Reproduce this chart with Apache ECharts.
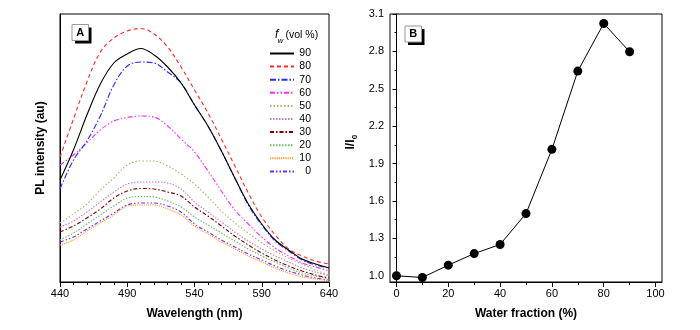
<!DOCTYPE html>
<html><head><meta charset="utf-8">
<script src="https://cdn.jsdelivr.net/npm/echarts@6/dist/echarts.min.js"></script>
<style>html,body{margin:0;padding:0;background:#fff}#c{width:700px;height:330px}</style>
</head><body><div id="c"></div>
<script>
// ---- Panel A data (PL spectra, arbitrary units) ----
const wavelengths = [440,450,460,470,480,490,500,510,520,530,540,550,560,570,580,590,600,610,620,630,640];
const fw90 = [102,132,167,198,219,228,233.5,227,215,199,177,156,131,104,78,58,42,32,23,18,14];
const fw80 = [125,163,200,230,244,251,253.5,248,235,215,192,169,143,116,89,65,47,33,26,21,18];
const fw70 = [93,122,141,166,197,216,220,219,210,199,177,156,131,104,77,57,41,31,22,17,14];
const fw60 = [117,127,139,152,161,164.5,166,165,156,143,130,111,91,72,58,45,34,26,19,15,11];
const fw50 = [59,68,78,92,104,117,121,121,116,108,98,85,71,59,49,39,31,24,18,12,7];
const fw40 = [55,61,70,80,90,98,100,100,99,93,80,70,60,50,41,33,26,20,14,10,6];
const fw30 = [50,56,64,73,84,91,93.5,93,90,86,75,66,56,46,37,29,22,16,11,7,4];
const fw20 = [42,49,58,67,76,84,85.5,85,81,75,65,57,49,41,33,26,20,14,9,6,3];
const fw10 = [37,42,51,59,67,76,77,77,73,67,56,48,40,33,26,20,14,9,5,3,1];
const fw0  = [40,45,53,61,69,77,79,79,76,70,58,50,42,35,28,22,16,11,7,4,2];
const seriesNames = ['90','80','70','60','50','40','30','20','10','0'];
const aXTicks = [440,490,540,590,640];

// ---- Panel B data ----
const waterFraction = [0,10,20,30,40,50,60,70,80,90];
const ratio = [1.0,0.986,1.085,1.178,1.251,1.499,2.014,2.642,3.024,2.797];
const bXTicks = [0,20,40,60,80,100];
const bYTicks = [1.0,1.3,1.6,1.9,2.2,2.5,2.8,3.1];

const spectra = [fw90,fw80,fw70,fw60,fw50,fw40,fw30,fw20,fw10,fw0];
const colors = ['#000000','#ff2a2a','#2a2aff','#ff2aff','#b4b464','#c080c0','#800000','#60c060','#ff9933','#7a2aff'];
const dashes = ['solid',[4,3],[6,2,1.5,2],[5,2,1.5,2,1.5,2],[1.5,2],[1.5,1.5],[4,2,1.5,2],[1.5,1.5],[1.2,1],[4,2,1.5,2,1.5,2]];

function mids(arr, step){ const out=[]; for(let v=arr[0]; v<=arr[arr.length-1]+1e-9; v+=step){ out.push(+v.toFixed(4)); } return out; }
const aXMinor = mids(aXTicks, 10);
const bXMinor = mids(bXTicks, 10);
const bYMinor = mids(bYTicks, 0.15);

const FONT = '"Liberation Sans", Arial, sans-serif';
const black = '#000';

const chart = echarts.init(document.getElementById('c'), null, {renderer:'canvas'});
const series = spectra.map((d,i)=>({
  name: seriesNames[i], type:'line', xAxisIndex:0, yAxisIndex:0,
  data: wavelengths.map((w,j)=>[w,d[j]]),
  symbol:'none', smooth:0.35, silent:true,
  lineStyle:{color:colors[i], width:1.1, type:dashes[i]},
  itemStyle:{color:colors[i]}, z: 10-i
}));
series.push({
  name:'ratio', type:'line', xAxisIndex:2, yAxisIndex:1,
  data: waterFraction.map((w,j)=>[w,ratio[j]]),
  symbol:'circle', symbolSize:9, silent:true,
  lineStyle:{color:black,width:1}, itemStyle:{color:black}
});

const baseAxis = {
  axisLine:{show:true,lineStyle:{color:black,width:1}},
  splitLine:{show:false},
  axisLabel:{color:black,fontFamily:FONT,fontSize:11},
  nameTextStyle:{color:black,fontFamily:FONT,fontSize:12,fontWeight:'bold'}
};

chart.setOption({
  animation:false,
  textStyle:{fontFamily:FONT},
  grid:[
    {left:60,top:14,width:269,height:268,show:true,borderColor:black,borderWidth:1,backgroundColor:'transparent',outerBoundsMode:'none'},
    {left:390,top:14,width:272,height:268,show:true,borderColor:black,borderWidth:1,backgroundColor:'transparent',outerBoundsMode:'none'}
  ],
  xAxis:[
    Object.assign({}, baseAxis, {type:'value',gridIndex:0,position:'bottom',min:440,max:640,
      name:'Wavelength (nm)',nameLocation:'middle',nameGap:26,
      axisTick:{show:true,customValues:aXTicks,length:5,lineStyle:{color:black}},
      axisLabel:{color:black,fontFamily:FONT,fontSize:11,margin:6,customValues:aXTicks}}),
    {type:'value',gridIndex:0,position:'bottom',min:440,max:640,
      axisLine:{show:false},splitLine:{show:false},axisLabel:{show:false},
      axisTick:{show:true,customValues:aXMinor,length:3,lineStyle:{color:black}}},
    Object.assign({}, baseAxis, {type:'value',gridIndex:1,position:'bottom',min:-2.5,max:102.5,
      name:'Water fraction (%)',nameLocation:'middle',nameGap:26,
      axisTick:{show:true,customValues:bXTicks,length:5,lineStyle:{color:black}},
      axisLabel:{color:black,fontFamily:FONT,fontSize:11,margin:6,customValues:bXTicks}}),
    {type:'value',gridIndex:1,position:'bottom',min:-2.5,max:102.5,
      axisLine:{show:false},splitLine:{show:false},axisLabel:{show:false},
      axisTick:{show:true,customValues:bXMinor,length:3,lineStyle:{color:black}}}
  ],
  yAxis:[
    Object.assign({}, baseAxis, {type:'value',gridIndex:0,min:0,max:268,
      name:'PL intensity (au)',nameLocation:'middle',nameGap:13,
      axisTick:{show:false},axisLabel:{show:false}}),
    Object.assign({}, baseAxis, {type:'value',gridIndex:1,position:'left',min:0.95,max:3.1,
      axisTick:{show:true,customValues:bYTicks,length:4,lineStyle:{color:black}},
      axisLabel:{color:black,fontFamily:FONT,fontSize:11,margin:6,customValues:bYTicks,formatter:v=>(+v).toFixed(1)}}),
    {type:'value',gridIndex:1,position:'left',min:0.95,max:3.1,
      axisLine:{show:false},splitLine:{show:false},axisLabel:{show:false},
      axisTick:{show:true,customValues:bYMinor,length:2,lineStyle:{color:black}}}
  ],
  legend:{
    data:seriesNames, orient:'vertical', left:269, top:48, padding:0,
    itemWidth:24, itemHeight:10, itemGap:2.1, selectedMode:false,
    itemStyle:{opacity:0},
    textStyle:{color:black,fontFamily:FONT,fontSize:10.5,
      rich:{n:{width:12,align:'right',fontSize:10.5,fontFamily:FONT,color:black}}},
    formatter:name=>'{n|'+name+'}'
  },
  graphic:[
    {type:'text',left:275,top:29,style:{text:'f',font:'italic 12px '+FONT,fill:black}},
    {type:'text',left:277.5,top:37,style:{text:'w',font:'italic 8px '+FONT,fill:black}},
    {type:'text',left:285.5,top:30,style:{text:'(vol %)',font:'10.5px '+FONT,fill:black}},
    // panel labels
    {type:'rect',shape:{x:75,y:27.5,width:16.5,height:16},style:{fill:black}},
    {type:'rect',shape:{x:72,y:24.5,width:16.5,height:16},style:{fill:'#fff',stroke:'#999',lineWidth:1}},
    {type:'text',x:80.25,y:32.5,style:{text:'A',font:'bold 11px '+FONT,fill:black,align:'center',verticalAlign:'middle'}},
    {type:'rect',shape:{x:408,y:29,width:16.5,height:16},style:{fill:black}},
    {type:'rect',shape:{x:405,y:26,width:16.5,height:16},style:{fill:'#fff',stroke:'#999',lineWidth:1}},
    {type:'text',x:413.25,y:34,style:{text:'B',font:'bold 11px '+FONT,fill:black,align:'center',verticalAlign:'middle'}},
    // I/I0 axis title
    {type:'group',x:351,y:142,rotation:Math.PI/2,children:[
      {type:'text',x:-7.5,y:0,style:{text:'I/I',font:'bold 12px '+FONT,fill:black,align:'left',verticalAlign:'middle'}},
      {type:'text',x:2.8,y:3.5,style:{text:'0',font:'bold 8px '+FONT,fill:black,align:'left',verticalAlign:'middle'}}
    ]}
  ],
  series:series
});
</script></body></html>
